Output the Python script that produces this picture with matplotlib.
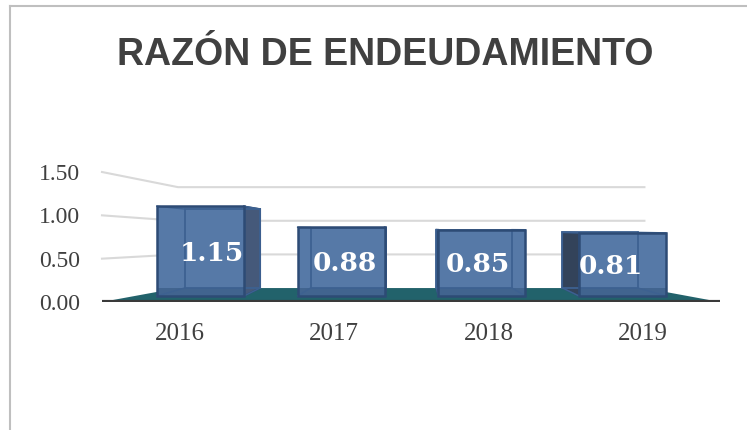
import matplotlib.pyplot as plt
from matplotlib.patches import Polygon
from matplotlib.lines import Line2D

# data
years = ['2016', '2017', '2018', '2019']
ratios = [1.15, 0.88, 0.85, 0.81]
value_labels = ['1.15', '0.88', '0.85', '0.81']
y_ticks = [0.0, 0.5, 1.0, 1.5]
y_tick_labels = ['0.00', '0.50', '1.00', '1.50']

TEXT = '#404040'
FRONT = '#5679a7'
EDGE = '#2d4b75'
INNER = '#3d6191'
SIDE_R = '#45597a'
SIDE_L = '#33435a'
FLOOR = '#22626b'
GRID = '#d9d9d9'

fig = plt.figure(figsize=(7.47, 4.30), dpi=100)
pos = [102 / 747, 128 / 430, 618 / 747, 130 / 430]

# axis with the tick labels, wall gridlines and floor
ax = fig.add_axes(pos)
ax.set_xlim(-0.506, 3.50)
ax.set_ylim(0, 1.5)
for s in ax.spines.values():
    s.set_visible(False)
ax.set_xticks(range(len(years)))
ax.set_xticklabels(years, family='Liberation Serif', fontsize=18, color=TEXT)
ax.set_yticks(y_ticks)
ax.set_yticklabels(y_tick_labels, family='Liberation Serif', fontsize=17, color=TEXT)
ax.tick_params(axis='y', length=0, pad=16)
ax.tick_params(axis='x', length=0, pad=15)

# perspective: back wall / floor back edge
wall_left, wall_right = -0.013, 3.01
floor_back = 0.161
for t in y_ticks[1:]:
    yb = floor_back + 0.776 * t
    ax.plot([-0.506, wall_left, wall_right], [t, yb, yb], color=GRID, lw=1.5,
            zorder=1, clip_on=False)

ax.add_patch(Polygon([(-0.506, 0), (wall_left, floor_back), (wall_right, floor_back),
                      (3.50, 0)], closed=True, facecolor=FLOOR, edgecolor='none', zorder=2))
ax.plot([-0.506, 3.50], [0, 0], color='#3a3a3a', lw=3, zorder=3, solid_capstyle='butt')

# axis for the 3D-looking bars
bx = fig.add_axes(pos, frameon=False)
bx.set_xlim(-0.506, 3.50)
bx.set_ylim(-6 / 78, 124 / 78)
bx.axis('off')

w_front = 0.564
w_back = 0.49
vp = 1.49
back_base = 0.103
back_scale = 0.88

front_x = [i - 0.088 * (i - 1.5) for i in range(len(years))]
back_x = [f - 0.105 * (f - vp) for f in front_x]
back_h = [back_scale * v for v in ratios]

# visible side faces
for fx, bxx, v, bh in zip(front_x, back_x, ratios, back_h):
    fl, fr = fx - w_front / 2, fx + w_front / 2
    bl, br = bxx - w_back / 2, bxx + w_back / 2
    top_b = back_base + bh
    if br > fr:
        bx.add_patch(Polygon([(fr, 0), (fr, v), (br, top_b), (br, back_base)],
                             closed=True, facecolor=SIDE_R, edgecolor=EDGE, lw=1.2, zorder=5))
    if bl < fl:
        bx.add_patch(Polygon([(fl, 0), (fl, v), (bl, top_b), (bl, back_base)],
                             closed=True, facecolor=SIDE_L, edgecolor=EDGE, lw=1.2, zorder=5))

# front faces
bx.bar(front_x, ratios, width=w_front, color=FRONT, edgecolor='none', zorder=6)
bx.bar(front_x, [back_base] * len(ratios), width=w_front, color='#41648f',
       edgecolor='none', zorder=6)

# back edges seen through the front face
bx.bar(back_x, back_h, width=w_back, bottom=back_base, fill=False,
       edgecolor=INNER, linewidth=1.3, zorder=7)
for fx, bxx, v, bh in zip(front_x, back_x, ratios, back_h):
    fl, fr = fx - w_front / 2, fx + w_front / 2
    bl, br = bxx - w_back / 2, bxx + w_back / 2
    top_b = back_base + bh
    bx.plot([fl, bl], [v, top_b], color=INNER, lw=1.0, zorder=7)
    bx.plot([fr, br], [v, top_b], color=INNER, lw=1.0, zorder=7)
    bx.plot([fl, bl], [0, back_base], color=INNER, lw=1.0, zorder=7)
    bx.plot([fr, br], [0, back_base], color=INNER, lw=1.0, zorder=7)

bx.bar(front_x, ratios, width=w_front, fill=False, edgecolor=EDGE,
       linewidth=1.8, zorder=8)

for fx, bxx, v, lab in zip(front_x, back_x, ratios, value_labels):
    bx.text((fx + bxx) / 2, 0.47 * v, lab, ha='center', va='center', color='white',
            family='DejaVu Serif', fontweight='bold', fontsize=19, zorder=9)

fig.text(385 / 747, 1 - 65 / 430, 'RAZÓN DE ENDEUDAMIENTO', ha='center', va='baseline',
         family='Liberation Sans', fontweight='bold', fontsize=27, color=TEXT)

# chart frame (left and top edges visible)
fig.add_artist(Line2D([10 / 747, 10 / 747], [0, 1 - 6 / 430], transform=fig.transFigure,
                      color='#bfbfbf', lw=1.5))
fig.add_artist(Line2D([10 / 747, 1], [1 - 6 / 430, 1 - 6 / 430], transform=fig.transFigure,
                      color='#bfbfbf', lw=1.5))

fig.savefig('out.png', dpi=100)
